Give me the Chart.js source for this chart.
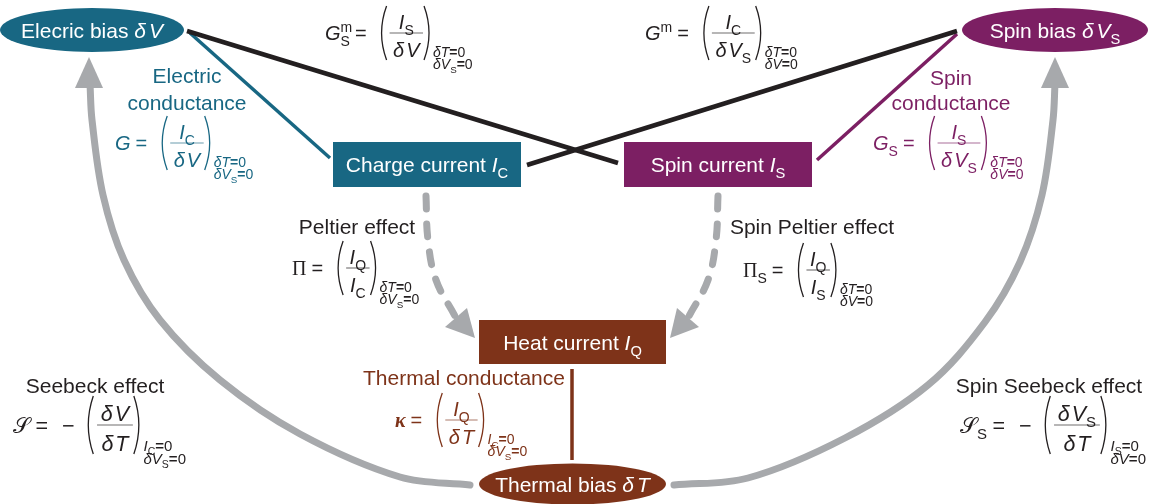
<!DOCTYPE html>
<html><head><meta charset="utf-8">
<script src="https://cdn.jsdelivr.net/npm/chart.js@4.4.1/dist/chart.umd.min.js"></script>
<style>html,body{margin:0;padding:0;background:#fff;overflow:hidden}canvas{display:block}</style>
</head><body>
<canvas id="c" width="1149" height="504"></canvas>
<script>
// ---------- colours ----------
const TEAL = '#186783', PURPLE = '#7c1f63', BROWN = '#7e3319', GRAY = '#a7a9ac', BLACK = '#231f20';

// ---------- nodes (diagram coordinates) ----------
const nodeKind   = ['ellipse', 'ellipse', 'box', 'box', 'box', 'ellipse'];
const nodeX      = [92, 1055, 427, 718, 572.5, 572.5];
const nodeY      = [30, 30, 164.5, 164.5, 342, 484];
const nodeHalfW  = [92, 93, 94, 94, 93.5, 93.5];
const nodeHalfH  = [22, 22, 22.5, 22.5, 22, 20.5];
const nodeColor  = [TEAL, PURPLE, TEAL, PURPLE, BROWN, BROWN];
const nodeLabel  = [
  [['Elecric bias ', 'r'], ['δ', 'i'], ['3', 'g'], ['V', 'i']],
  [['Spin bias ', 'r'], ['δ', 'i'], ['3', 'g'], ['V', 'i'], ['S', 'd']],
  [['Charge current ', 'r'], ['I', 'i'], ['C', 'd']],
  [['Spin current ', 'r'], ['I', 'i'], ['S', 'd']],
  [['Heat current ', 'r'], ['I', 'i'], ['Q', 'd']],
  [['Thermal bias ', 'r'], ['δ', 'i'], ['3', 'g'], ['T', 'i']]
];

// ---------- straight links ----------
const linkX1 = [187, 957, 190, 957, 572];
const linkY1 = [31, 31, 33, 34, 369];
const linkX2 = [618, 527, 330, 817, 572];
const linkY2 = [163, 165, 158, 160, 460];
const linkColor = [BLACK, BLACK, TEAL, PURPLE, BROWN];
const linkWidth = [4.5, 4.5, 3.5, 3.5, 3.5];

// ---------- curved grey arrows (Seebeck / spin Seebeck) ----------
const seebeckX     = [470, 400, 300, 220, 160, 124, 103, 92, 90];
const seebeckY     = [485, 477, 434, 380, 320, 260, 195, 120, 84];
const spinSeebeckX = [674, 748, 845, 928, 985, 1020, 1042, 1053, 1055];
const spinSeebeckY = [485, 478, 438, 385, 322, 262, 195, 120, 84];

// ---------- dashed arrows (Peltier / spin Peltier) ----------
const peltierX     = [426, 428, 436, 455];
const peltierY     = [196, 240, 280, 316];
const spinPeltierX = [718, 716, 708, 689];
const spinPeltierY = [196, 240, 280, 316];

// ---------- arrow heads: tip, base1, base2 ----------
const headTipX = [89, 1055, 475, 670];
const headTipY = [57, 57, 338, 338];
const headB1X  = [75, 1041, 445, 677];
const headB1Y  = [88, 88, 327, 308];
const headB2X  = [103, 1069, 467, 699];
const headB2Y  = [88, 88, 308, 327];

// ---------- captions ----------
const captionText = [
  [['Electric', 'r']], [['conductance', 'r']], [['Spin', 'r']], [['conductance', 'r']],
  [['Peltier effect', 'r']], [['Spin Peltier effect', 'r']], [['Thermal conductance', 'r']],
  [['Seebeck effect', 'r']], [['Spin Seebeck effect', 'r']]
];
const captionX = [187, 187, 951, 951, 357, 812, 464, 95, 1049];
const captionY = [75, 102, 77, 102, 226, 226, 377, 385, 385];
const captionColor = [TEAL, TEAL, PURPLE, PURPLE, BLACK, BLACK, BROWN, BLACK, BLACK];

// ---------- formulas ----------
const dV   = [['δ', 'i'], ['2', 'g'], ['V', 'i']];
const dVS  = [['δ', 'i'], ['2', 'g'], ['V', 'i'], ['S', 'd']];
const dT   = [['δ', 'i'], ['2', 'g'], ['T', 'i']];
const IC   = [['I', 'i'], ['C', 'd']];
const IS   = [['I', 'i'], ['S', 'd']];
const IQ   = [['I', 'i'], ['Q', 'd']];
const dT0  = [['δ', 'i'], ['T', 'i'], ['=', 'b'], ['0', 'r']];
const dV0  = [['δ', 'i'], ['V', 'i'], ['=', 'b'], ['0', 'r']];
const dVS0 = [['δ', 'i'], ['V', 'i'], ['S', 'd'], ['=', 'b'], ['0', 'r']];
const IC0  = [['I', 'i'], ['C', 'd'], ['=', 'b'], ['0', 'r']];
const IS0  = [['I', 'i'], ['S', 'd'], ['=', 'b'], ['0', 'r']];

const formulaLHS = [
  [['G', 'i'], ['m', 'uk'], ['S', 'd']],
  [['G', 'i'], ['m', 'u']],
  [['G', 'i']],
  [['G', 'i'], ['S', 'd']],
  [['Π', 'f']],
  [['Π', 'f'], ['S', 'd']],
  [['κ', 'fib']],
  [['𝒮', 'm']],
  [['𝒮', 'm'], ['S', 'd']]
];
const formulaMinus = [false, false, false, false, false, false, false, true, true];
const formulaNum   = [IS, IC, IC, IS, IQ, IQ, IQ, dV, dVS];
const formulaDen   = [dV, dVS, dV, dVS, IC, IS, dT, dT, dT];
const formulaCond1 = [dT0, dT0, dT0, dT0, dT0, dT0, IC0, IC0, IS0];
const formulaCond2 = [dVS0, dV0, dVS0, dV0, dVS0, dV0, dVS0, dVS0, dV0];
const formulaColor = [BLACK, BLACK, TEAL, PURPLE, BLACK, BLACK, BROWN, BLACK, BLACK];
const formulaX     = [325, 645, 115, 873, 292, 743, 395, 13, 960];
const formulaY     = [33, 33, 143, 143, 268, 270, 420, 425, 425];
const formulaSize  = [20, 20, 20, 20, 20, 20, 20, 21.5, 21.5];

// ---------- rich text helpers ----------
const SANS = '"Liberation Sans", Arial, Helvetica, sans-serif';
const SERIF = '"Liberation Serif", "Times New Roman", serif';
const SCRIPT = '"DejaVu Serif", "DejaVu Sans", "Noto Sans", serif';
function fontFor(st, size) {
  const small = st.includes('d') || st.includes('u');
  const s = small ? size * 0.7 : size;
  const fam = st.includes('f') ? SERIF : (st.includes('m') ? SCRIPT : SANS);
  return (st.includes('i') ? 'italic ' : '') + (st.includes('b') ? 'bold ' : '') + s.toFixed(1) + 'px ' + fam;
}
function runsWidth(ctx, runs, size) {
  let w = 0;
  for (const [t, st] of runs) {
    if (st === 'g') { w += +t; continue; }
    ctx.font = fontFor(st, size);
    if (!st.includes('k')) w += ctx.measureText(t).width;
  }
  return w;
}
function drawRuns(ctx, runs, x, base, size, color, align) {
  const w = runsWidth(ctx, runs, size);
  let cx = align === 'center' ? x - w / 2 : x;
  ctx.fillStyle = color; ctx.textAlign = 'left'; ctx.textBaseline = 'alphabetic';
  for (const [t, st] of runs) {
    if (st === 'g') { cx += +t; continue; }
    ctx.font = fontFor(st, size);
    let dy = 0;
    if (st.includes('d')) dy = size * 0.3;
    if (st.includes('u')) dy = -size * 0.42;
    ctx.fillText(t, cx, base + dy);
    if (!st.includes('k')) cx += ctx.measureText(t).width;
  }
  return w;
}
function paren(ctx, x, cy, h, open, color) {
  ctx.beginPath(); ctx.strokeStyle = color; ctx.lineWidth = 1.3;
  if (open) { ctx.moveTo(x + 7, cy - h); ctx.quadraticCurveTo(x - 3, cy, x + 7, cy + h); }
  else { ctx.moveTo(x, cy - h); ctx.quadraticCurveTo(x + 10, cy, x, cy + h); }
  ctx.stroke();
}
function drawFormula(ctx, i, px, py) {
  const size = formulaSize[i], k = size / 20, color = formulaColor[i];
  const cy = py(formulaY[i]);
  let x = px(formulaX[i]);
  x += drawRuns(ctx, formulaLHS[i], x, cy + 7 * k, size, color, 'left') + 5 * k;
  x += drawRuns(ctx, [['=', 'r']], x, cy + 7 * k, size, color, 'left') + 13 * k;
  if (formulaMinus[i]) x += drawRuns(ctx, [['−', 'r']], x, cy + 7 * k, size, color, 'left') + 11 * k;
  paren(ctx, x, cy, 27 * k, true, color);
  x += 10 * k;
  const nw = runsWidth(ctx, formulaNum[i], size), dw = runsWidth(ctx, formulaDen[i], size);
  const fw = Math.max(nw, dw) + 7 * k;
  drawRuns(ctx, formulaNum[i], x + fw / 2, cy - 4 * k, size, color, 'center');
  drawRuns(ctx, formulaDen[i], x + fw / 2, cy + 24 * k, size, color, 'center');
  ctx.save(); ctx.globalAlpha = 0.65; ctx.strokeStyle = color; ctx.lineWidth = 1.1;
  ctx.beginPath(); ctx.moveTo(x, cy); ctx.lineTo(x + fw, cy); ctx.stroke(); ctx.restore();
  x += fw + 1;
  paren(ctx, x, cy, 27 * k, false, color);
  x += 9 * k;
  drawRuns(ctx, formulaCond1[i], x, cy + 24 * k, 14 * k, color, 'left');
  drawRuns(ctx, formulaCond2[i], x, cy + 36 * k, 14 * k, color, 'left');
}

const diagram = {
  id: 'diagram',
  afterDatasetsDraw(chart) {
    const ctx = chart.ctx, xs = chart.scales.x, ys = chart.scales.y;
    const px = v => xs.getPixelForValue(v), py = v => ys.getPixelForValue(v);
    ctx.save();
    // arrow heads
    ctx.fillStyle = GRAY;
    for (let i = 0; i < headTipX.length; i++) {
      ctx.beginPath();
      ctx.moveTo(px(headTipX[i]), py(headTipY[i]));
      ctx.lineTo(px(headB1X[i]), py(headB1Y[i]));
      ctx.lineTo(px(headB2X[i]), py(headB2Y[i]));
      ctx.closePath(); ctx.fill();
    }
    // nodes
    for (let i = 0; i < nodeKind.length; i++) {
      const cx = px(nodeX[i]), cy = py(nodeY[i]);
      const hw = px(nodeX[i] + nodeHalfW[i]) - cx, hh = Math.abs(py(nodeY[i] + nodeHalfH[i]) - cy);
      ctx.fillStyle = nodeColor[i];
      ctx.beginPath();
      if (nodeKind[i] === 'ellipse') ctx.ellipse(cx, cy, hw, hh, 0, 0, Math.PI * 2);
      else ctx.rect(cx - hw, cy - hh, hw * 2, hh * 2);
      ctx.fill();
      drawRuns(ctx, nodeLabel[i], cx, cy + 7.5, 21, '#ffffff', 'center');
    }
    // captions
    for (let i = 0; i < captionText.length; i++) {
      drawRuns(ctx, captionText[i], px(captionX[i]), py(captionY[i]) + 7.5, 21, captionColor[i], 'center');
    }
    // formulas
    for (let i = 0; i < formulaLHS.length; i++) drawFormula(ctx, i, px, py);
    ctx.restore();
  }
};

function pts(xa, ya) { return xa.map((x, i) => ({ x: x, y: ya[i] })); }

const datasets = [];
for (let i = 0; i < linkX1.length; i++) {
  datasets.push({ data: [{ x: linkX1[i], y: linkY1[i] }, { x: linkX2[i], y: linkY2[i] }],
    showLine: true, borderColor: linkColor[i], borderWidth: linkWidth[i], pointRadius: 0, clip: false });
}
[[seebeckX, seebeckY], [spinSeebeckX, spinSeebeckY]].forEach(([xa, ya]) => {
  datasets.push({ data: pts(xa, ya), showLine: true, borderColor: GRAY, borderWidth: 7, tension: 0.35,
    borderCapStyle: 'round', pointRadius: 0, clip: false });
});
[[peltierX, peltierY], [spinPeltierX, spinPeltierY]].forEach(([xa, ya]) => {
  datasets.push({ data: pts(xa, ya), showLine: true, borderColor: GRAY, borderWidth: 7, tension: 0.4,
    borderDash: [13, 15], borderCapStyle: 'round', pointRadius: 0, clip: false });
});

new Chart(document.getElementById('c'), {
  type: 'scatter',
  data: { datasets },
  options: {
    responsive: false, animation: false, devicePixelRatio: 1,
    layout: { padding: 0 },
    plugins: { legend: { display: false }, tooltip: { enabled: false } },
    scales: {
      x: { type: 'linear', min: 0, max: 1149, display: false },
      y: { type: 'linear', min: 0, max: 504, reverse: true, display: false }
    }
  },
  plugins: [diagram]
});
</script></body></html>
